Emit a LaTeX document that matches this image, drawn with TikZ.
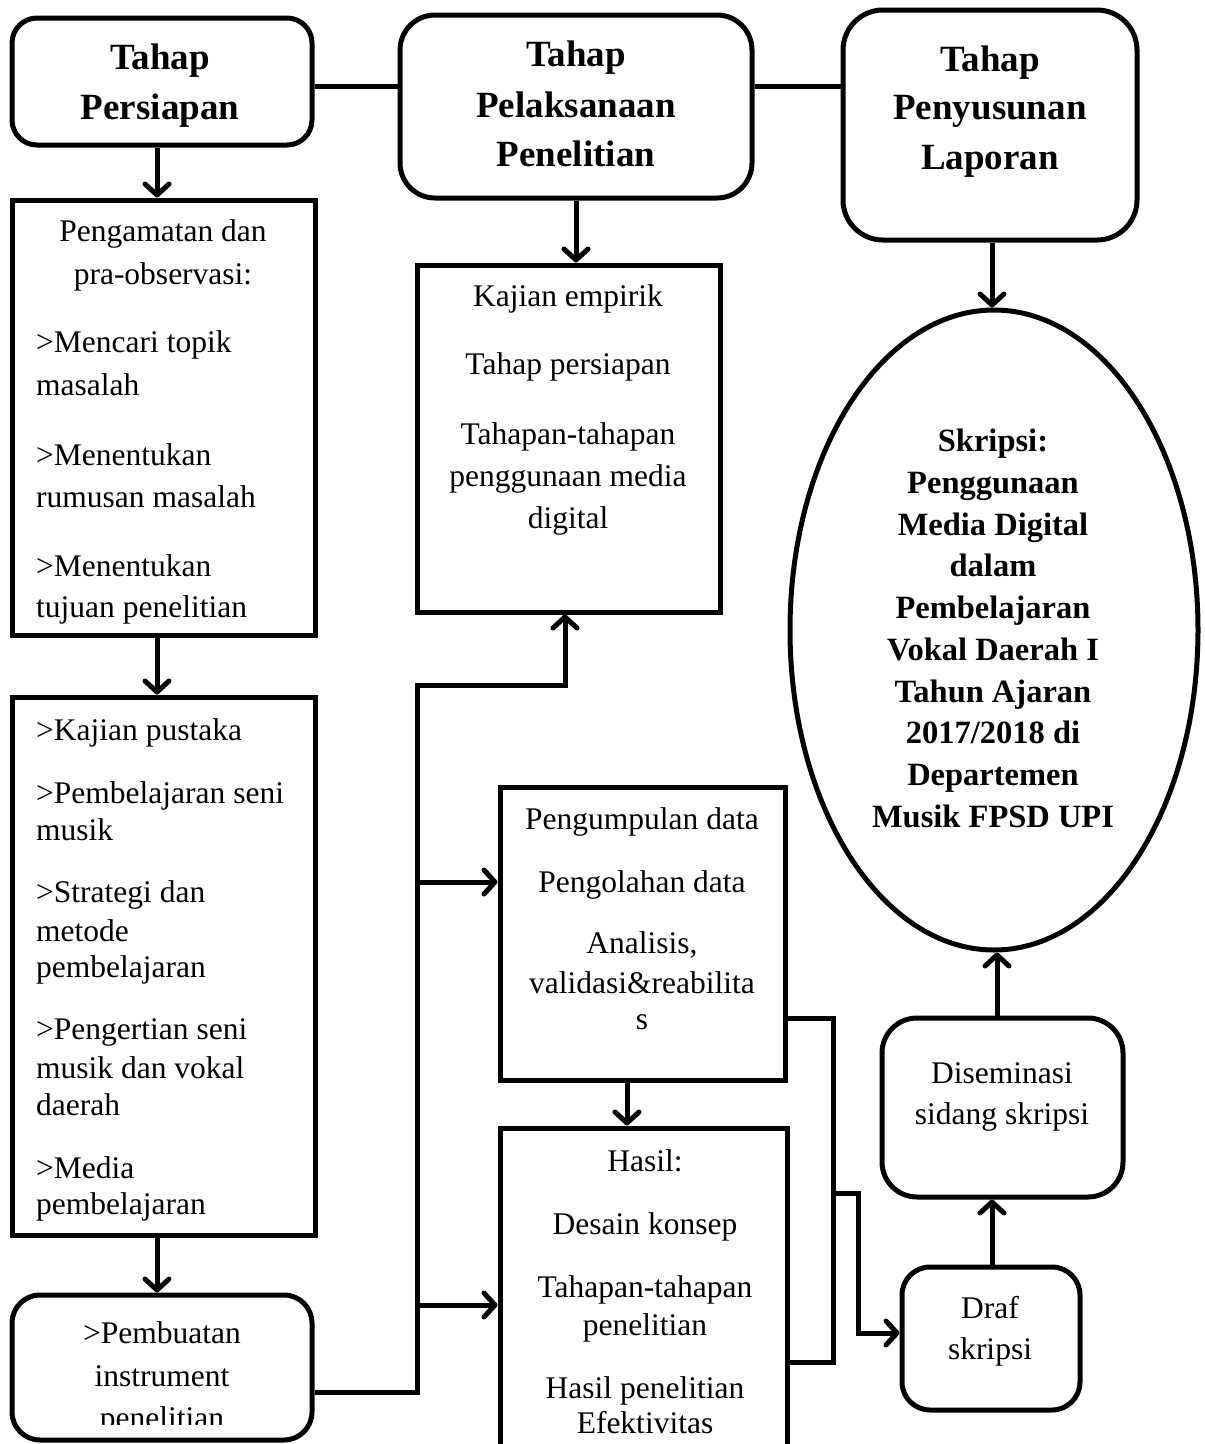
\documentclass[tikz,border=0pt]{standalone}
\usepackage{fontspec}
\setmainfont{Liberation Serif}
\usetikzlibrary{arrows.meta,shapes.geometric}
\begin{document}
\begin{tikzpicture}[x=1pt,y=-1pt,
  tx/.style={font=\fontsize{31.5}{38}\selectfont, inner sep=0pt, anchor=base},
  tl/.style={tx, anchor=base west},
  ttl/.style={font=\fontsize{37}{46}\selectfont\bfseries, inner sep=0pt, anchor=base},
  etx/.style={font=\fontsize{32.5}{40}\selectfont\bfseries, inner sep=0pt, anchor=base},
  sq/.style={draw, line width=5pt, rectangle, inner sep=0pt},
  rnd/.style={sq, rounded corners=#1},
  arr/.style={-{Straight Barb[length=11pt,width=24pt,line join=round,line cap=round]}, line width=5pt, line join=miter},
  con/.style={line width=5pt, line join=miter}
]
\useasboundingbox (0,0) rectangle (1205,1444);
\fill[white] (0,0) rectangle (1205,1444);
\clip (0,0) rectangle (1205,1444);

% boxes
\node[rnd=25pt, minimum width=300pt, minimum height=127pt] (pers) at (162,81.5) {};
\node[rnd=35pt, minimum width=352pt, minimum height=183pt] (pela) at (576,106.5) {};
\node[rnd=40pt, minimum width=294pt, minimum height=230pt] (peny) at (990,125) {};
\node[sq, minimum width=303pt, minimum height=435pt] (b1) at (163.5,417.5) {};
\node[sq, minimum width=303pt, minimum height=538pt] (b2) at (163.5,966) {};
\node[rnd=28pt, minimum width=300pt, minimum height=145pt] (b3) at (162,1367.5) {};
\node[sq, minimum width=303pt, minimum height=347pt] (kaj) at (568.5,438.5) {};
\node[sq, minimum width=285pt, minimum height=293pt] (peng) at (642.5,933.5) {};
\node[sq, minimum width=287pt, minimum height=352pt] (hasil) at (643.5,1304) {};
\node[rnd=28pt, minimum width=178pt, minimum height=143pt] (draf) at (991,1338.5) {};
\node[rnd=35pt, minimum width=241pt, minimum height=179pt] (dis) at (1002.5,1107.5) {};
\node[draw, line width=5pt, ellipse, inner sep=0pt, minimum width=408pt, minimum height=640pt] (ell) at (994,630) {};

% titles
\node[ttl] (pers1) at (160,69) {Tahap};
\node[ttl] (pers2) at (160,119) {Persiapan};
\node[ttl] (pela1) at (576,66) {Tahap};
\node[ttl] (pela2) at (576,117) {Pelaksanaan};
\node[ttl] (pela3) at (576,166) {Penelitian};
\node[ttl] (peny1) at (990,71) {Tahap};
\node[ttl] (peny2) at (990,119) {Penyusunan};
\node[ttl] (peny3) at (990,169) {Laporan};

% box 1
\node[tx] (b1a) at (163,241) {Pengamatan dan};
\node[tx] (b1b) at (163,284) {pra-observasi:};
\node[tl] (b1c) at (36,352) {>Mencari topik};
\node[tl] (b1d) at (36,395) {masalah};
\node[tl] (b1e) at (36,465) {>Menentukan};
\node[tl] (b1f) at (36,507) {rumusan masalah};
\node[tl] (b1g) at (36,576) {>Menentukan};
\node[tl] (b1h) at (36,617) {tujuan penelitian};

% box 2
\node[tl] (b2a) at (36,740) {>Kajian pustaka};
\node[tl] (b2b) at (36,803) {>Pembelajaran seni};
\node[tl] (b2c) at (36,840) {musik};
\node[tl] (b2d) at (36,902) {>Strategi dan};
\node[tl] (b2e) at (36,941) {metode};
\node[tl] (b2f) at (36,977) {pembelajaran};
\node[tl] (b2g) at (36,1039) {>Pengertian seni};
\node[tl] (b2h) at (36,1078) {musik dan vokal};
\node[tl] (b2i) at (36,1115) {daerah};
\node[tl] (b2j) at (36,1178) {>Media};
\node[tl] (b2k) at (36,1214) {pembelajaran};

% box 3
\node[tx] (b3a) at (162,1343) {>Pembuatan};
\node[tx] (b3b) at (162,1386) {instrument};
\begin{scope}
\clip (20,1395) rectangle (305,1424);
\node[tx] (b3c) at (162,1428) {penelitian};
\end{scope}

% kajian
\node[tx] (k1) at (568,306) {Kajian empirik};
\node[tx] (k2) at (568,374) {Tahap persiapan};
\node[tx] (k3) at (568,444) {Tahapan-tahapan};
\node[tx] (k4) at (568,486) {penggunaan media};
\node[tx] (k5) at (568,528) {digital};

% pengumpulan
\node[tx] (p1) at (642,829) {Pengumpulan data};
\node[tx] (p2) at (642,892) {Pengolahan data};
\node[tx] (p3) at (642,953) {Analisis,};
\node[tx] (p4) at (642,993) {validasi\&reabilita};
\node[tx] (p5) at (642,1029) {s};

% hasil
\node[tx] (h1) at (645,1171) {Hasil:};
\node[tx] (h2) at (645,1234) {Desain konsep};
\node[tx] (h3) at (645,1297) {Tahapan-tahapan};
\node[tx] (h4) at (645,1335) {penelitian};
\node[tx] (h5) at (645,1398) {Hasil penelitian};
\node[tx] (h6) at (645,1433) {Efektivitas};

% diseminasi, draf
\node[tx] (d1) at (1002,1083) {Diseminasi};
\node[tx] (d2) at (1002,1124) {sidang skripsi};
\node[tx] (f1) at (990,1318) {Draf};
\node[tx] (f2) at (990,1359) {skripsi};

% ellipse text
\node[etx] (e1) at (993,451) {Skripsi:};
\node[etx] (e2) at (993,493) {Penggunaan};
\node[etx] (e3) at (993,535) {Media Digital};
\node[etx] (e4) at (993,576) {dalam};
\node[etx] (e5) at (993,618) {Pembelajaran};
\node[etx] (e6) at (993,660) {Vokal Daerah I};
\node[etx] (e7) at (993,702) {Tahun Ajaran};
\node[etx] (e8) at (993,743) {2017/2018 di};
\node[etx] (e9) at (993,785) {Departemen};
\node[etx] (e10) at (993,827) {Musik FPSD UPI};

% connectors
\coordinate (top) at (0,86);
\draw[con] (pers.east |- top) -- (pela.west |- top);
\draw[con] (pela.east |- top) -- (peny.west |- top);

\coordinate (a1) at (157,0);
\draw[arr] (a1 |- pers.south) -- (a1 |- b1.north);
\draw[arr] (a1 |- b1.south) -- (a1 |- b2.north);
\draw[arr] (a1 |- b2.south) -- (a1 |- b3.north);
\draw[arr] (pela.south) -- (pela.south |- kaj.north);
\coordinate (a2) at (992,0);
\draw[arr] (a2 |- peny.south) -- (a2 |- ell.north);

\coordinate (j1) at (417,1392);
\coordinate (j2) at (417,685);
\coordinate (j3) at (565,685);
\draw[arr] (b3.east |- j1) -- (j1) -- (j2) -- (j3) -- (j3 |- kaj.south);
\coordinate (j4) at (417,882);
\draw[arr] (j4) -- (j4 -| peng.west);
\coordinate (j5) at (417,1305);
\draw[arr] (j5) -- (j5 -| hasil.west);

\coordinate (a3) at (627,0);
\draw[arr] (a3 |- peng.south) -- (a3 |- hasil.north);

\coordinate (r1) at (833,1018);
\coordinate (r2) at (833,1362);
\draw[con] (peng.east |- r1) -- (r1) -- (r2) -- (r2 -| hasil.east);
\coordinate (r3) at (833,1193);
\coordinate (r4) at (858,1193);
\coordinate (r5) at (858,1333);
\draw[arr] (r3) -- (r4) -- (r5) -- (r5 -| draf.west);

\draw[arr] (a2 |- draf.north) -- (a2 |- dis.south);
\coordinate (a4) at (997,0);
\draw[arr] (a4 |- dis.north) -- (a4 |- ell.south);
\end{tikzpicture}
\end{document}
